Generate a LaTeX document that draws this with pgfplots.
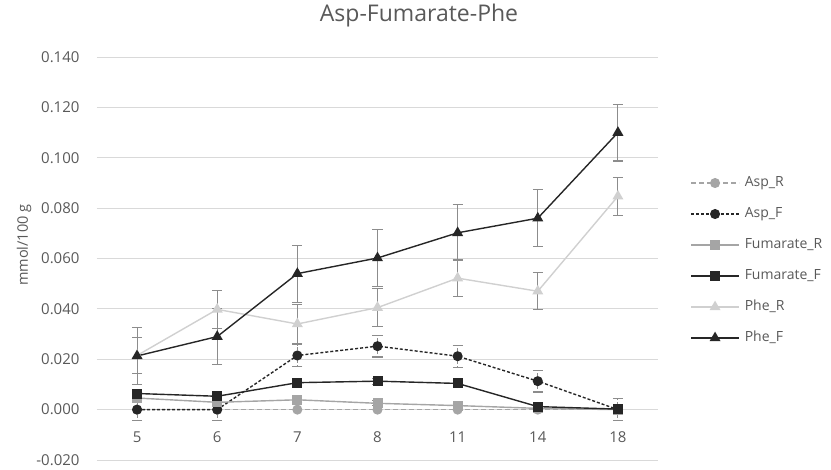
\documentclass[border=0pt]{standalone}
\usepackage{fontspec}
\setmainfont{Open Sans}
\usepackage{pgfplots}
\pgfplotsset{compat=1.18}

\definecolor{txtgray}{HTML}{595959}
\definecolor{gridgray}{HTML}{D9D9D9}
\definecolor{darkser}{HTML}{262626}
\definecolor{midser}{HTML}{A5A5A5}
\definecolor{lightser}{HTML}{D0D0D0}
\definecolor{errgray}{HTML}{8C8C8C}

\begin{document}
\begin{tikzpicture}
\useasboundingbox (-97bp,-10bp) rectangle (734bp,460bp);
\begin{axis}[
  scale only axis,
  width=561bp, height=403bp,
  xmin=-0.5, xmax=6.5,
  ymin=-0.02, ymax=0.14,
  axis line style={draw=none},
  major tick length=0pt,
  xtick={0,1,2,3,4,5,6},
  xticklabels={5,6,7,8,11,14,18},
  ytick={-0.02,0,0.02,0.04,0.06,0.08,0.10,0.12,0.14},
  yticklabels={-0.020,0.000,0.020,0.040,0.060,0.080,0.100,0.120,0.140},
  tick label style={font=\fontsize{15bp}{17bp}\selectfont, text=txtgray},
  xticklabel style={anchor=center, yshift=23bp},
  yticklabel style={anchor=east, xshift=-14bp},
  ymajorgrids,
  grid style={gridgray, line width=0.8bp},
  title={Asp-Fumarate-Phe},
  title style={at={(rel axis cs:0.574,1.0744)}, anchor=base, text=txtgray,
    font=\fontsize{23bp}{27bp}\selectfont},
  ylabel={mmol/100 g},
  ylabel style={at={(rel axis cs:-0.130,0.533)}, anchor=center, text=txtgray,
    font=\fontsize{14.5bp}{17bp}\selectfont},
  legend style={at={(rel axis cs:1.052,0.495)}, anchor=west, draw=none, fill=none,
    font=\fontsize{14bp}{16bp}\selectfont, text=txtgray, row sep=13bp,
    nodes={text height=10.5bp, text depth=3.5bp, inner sep=2bp},
    /tikz/every odd column/.append style={column sep=3bp}},
  legend cell align=left,
  legend image code/.code={\draw[mark repeat=2,mark phase=2] plot coordinates {(0bp,0bp) (24bp,0bp) (48bp,0bp)};},
  error bars/error bar style={errgray, line width=1.1bp},
  error bars/error mark options={rotate=90, mark size=5bp, errgray, line width=1.1bp},
  every axis plot/.append style={line width=1.4bp},
]
\addplot [midser, dash pattern=on 5bp off 3bp, mark=*, mark size=4.3bp, mark options={solid, fill=midser}]
  coordinates {(0,0) (1,0) (2,0) (3,0) (4,0) (5,0) (6,0)};
\addlegendentry{Asp\_R}
\addplot [darkser, dash pattern=on 3bp off 2bp, mark=*, mark size=4.3bp, mark options={solid, fill=darkser},
  error bars/.cd, y dir=both, y explicit]
  coordinates {(0,0) +- (0,0.0043) (1,0) +- (0,0.0043) (2,0.0215) +- (0,0.0043)
    (3,0.0252) +- (0,0.0043) (4,0.0212) +- (0,0.0043) (5,0.0113) +- (0,0.0043) (6,0) +- (0,0.0043)};
\addlegendentry{Asp\_F}
\addplot [midser, mark=square*, mark size=4.3bp, mark options={solid, fill=midser},
  error bars/.cd, y dir=both, y explicit]
  coordinates {(0,0.0046) +- (0,0.001) (1,0.0029) +- (0,0.001) (2,0.0039) +- (0,0.001)
    (3,0.0025) +- (0,0.001) (4,0.0016) +- (0,0.001) (5,0.0005) +- (0,0.001) (6,0) +- (0,0.001)};
\addlegendentry{Fumarate\_R}
\addplot [darkser, mark=square*, mark size=4.3bp, mark options={solid, fill=darkser},
  error bars/.cd, y dir=both, y explicit]
  coordinates {(0,0.0064) +- (0,0.0012) (1,0.0053) +- (0,0.0012) (2,0.0107) +- (0,0.0012)
    (3,0.0113) +- (0,0.0012) (4,0.0104) +- (0,0.0012) (5,0.0012) +- (0,0.0012) (6,0.0002) +- (0,0.0012)};
\addlegendentry{Fumarate\_F}
\addplot [lightser, mark=triangle*, mark size=5bp, mark options={solid, fill=lightser},
  error bars/.cd, y dir=both, y explicit]
  coordinates {(0,0.0215) +- (0,0.0072) (1,0.0398) +- (0,0.0075) (2,0.0340) +- (0,0.0076)
    (3,0.0405) +- (0,0.0075) (4,0.0522) +- (0,0.0073) (5,0.0470) +- (0,0.0074) (6,0.0847) +- (0,0.0075)};
\addlegendentry{Phe\_R}
\addplot [darkser, mark=triangle*, mark size=5bp, mark options={solid, fill=darkser},
  error bars/.cd, y dir=both, y explicit]
  coordinates {(0,0.0213) +- (0,0.0112) (1,0.0290) +- (0,0.0112) (2,0.0540) +- (0,0.0113)
    (3,0.0602) +- (0,0.0113) (4,0.0702) +- (0,0.0111) (5,0.0760) +- (0,0.0113) (6,0.1100) +- (0,0.0113)};
\addlegendentry{Phe\_F}
\end{axis}
\end{tikzpicture}
\end{document}
